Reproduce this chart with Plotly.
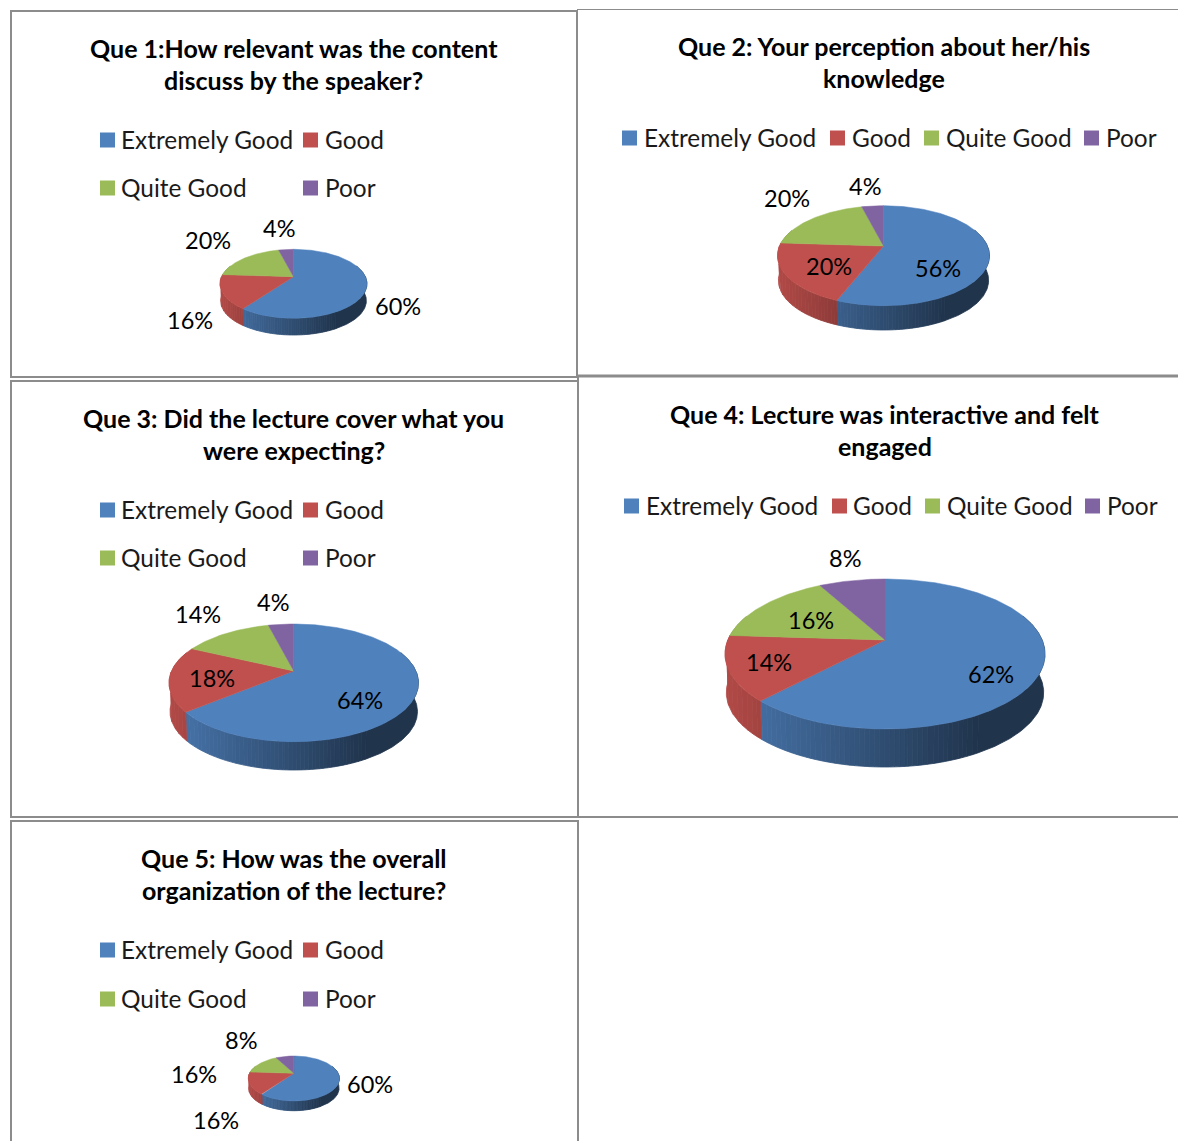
import math
import plotly.graph_objects as go

# ---- data ----
CATEGORIES = ["Extremely Good", "Good", "Quite Good", "Poor"]
Q1_VALUES = [60, 16, 20, 4]
Q2_VALUES = [56, 20, 20, 4]
Q3_VALUES = [64, 18, 14, 4]
Q4_VALUES = [62, 14, 16, 8]
Q5_VALUES = [60, 16, 16, 8]
Q1_TITLE = ["Que 1:How relevant was the content", "discuss by the speaker?"]
Q2_TITLE = ["Que 2: Your perception about her/his", "knowledge"]
Q3_TITLE = ["Que 3: Did the lecture cover what you", "were expecting?"]
Q4_TITLE = ["Que 4: Lecture was interactive and felt", "engaged"]
Q5_TITLE = ["Que 5: How was the overall", "organization of the lecture?"]

# ---- styling / layout ----
COLORS = [(79, 129, 189), (192, 80, 77), (155, 187, 89), (128, 100, 162)]
FONT = "Lato"
TITLE_SIZE = 25
LEGEND_SIZE = 24.4
LABEL_SIZE = 23.5
BORDER = "#8c8c8c"

LEG_TWO_ROWS = lambda y1, y2: [(100, y1, 119), (303, y1, 323), (100, y2, 119), (303, y2, 323)]
PANELS = [
    dict(values=Q1_VALUES, title=Q1_TITLE, tx=293.5, ty=(48, 80), legend=LEG_TWO_ROWS(140, 188),
         top=249.3, apex=276.7, bottom=318.3, left=220, right=367, side=335,
         labels=[(398, 306), (190, 320), (208, 240), (279, 228)]),
    dict(values=Q2_VALUES, title=Q2_TITLE, tx=884, ty=(46, 78),
         legend=[(622, 138, 642), (830, 138, 850), (924, 138, 944), (1084, 138, 1104)],
         top=205.7, apex=246, bottom=305.7, left=777.5, right=989.5, side=330,
         labels=[(938, 268), (829, 266), (787, 198), (865, 186)]),
    dict(values=Q3_VALUES, title=Q3_TITLE, tx=293.5, ty=(418, 450), legend=LEG_TWO_ROWS(510, 558),
         top=624, apex=671, bottom=741.7, left=169, right=418.5, side=770,
         labels=[(360, 700), (212, 678), (198, 614), (273, 602)]),
    dict(values=Q4_VALUES, title=Q4_TITLE, tx=885, ty=(414, 446),
         legend=[(624, 506, 644), (832, 506, 851), (925, 506, 945), (1085, 506, 1105)],
         top=579, apex=640, bottom=729, left=725, right=1045, side=767,
         labels=[(991, 674), (769, 662), (811, 620), (845, 558)]),
    dict(values=Q5_VALUES, title=Q5_TITLE, tx=294, ty=(858, 890), legend=LEG_TWO_ROWS(950, 999),
         top=1056, apex=1073.3, bottom=1101, left=248.3, right=339.5, side=1110.7,
         labels=[(370, 1084), (216, 1120), (194, 1074), (241, 1040)]),
]
BORDER_LINES = [
    (11, 11, 577, 11, 2), (11, 10, 11, 378, 2), (11, 377, 578, 377, 2), (577, 10, 577, 378, 2),
    (577, 9.5, 1178, 9.5, 1.2), (577, 376, 1178, 376, 3),
    (11, 381, 578, 381, 2), (11, 380, 11, 818, 2), (11, 817, 1178, 817, 2), (578, 376, 578, 818, 2),
    (11, 821, 578, 821, 2), (11, 820, 11, 1141, 2), (578, 820, 578, 1141, 2),
]


def rgb(c, s=1.0):
    return "rgb(%d,%d,%d)" % tuple(round(v * s) for v in c)


def projector(p):
    back, front = p["apex"] - p["top"], p["bottom"] - p["apex"]
    k = (front - back) / (front + back)
    a = back * (1 + k)
    cx = (p["left"] + p["right"]) / 2
    R = (p["right"] - p["left"]) / 2 * math.sqrt(1 - k * k)

    def top(th):
        X, Y = math.sin(th), math.cos(th)
        d = 1 + k * Y
        return cx + R * X / d, p["apex"] - a * Y / d

    s = 0.992
    shift = p["side"] - (p["apex"] + s * front)

    def low(th):
        x, y = top(th)
        return cx + s * (x - cx), p["apex"] + s * (y - p["apex"]) + shift

    return top, low


def add_wall_band(fig, top, low, angles, col):
    if len(angles) < 2:
        return
    upper = [top(t) for t in angles]
    lower = [low(t) for t in reversed(angles)]
    pts = upper + lower + upper[:1]
    fig.add_trace(go.Scatter(x=[q[0] for q in pts], y=[q[1] for q in pts], mode="lines", fill="toself",
                             fillcolor=col, line=dict(color=col, width=0.8),
                             hoverinfo="skip", showlegend=False))


fig = go.Figure()
LEVELS = 100
for p in PANELS:
    top, low = projector(p)
    total = sum(p["values"])
    width = p["right"] - p["left"]
    start = 0.0
    spans = []
    for v in p["values"]:
        end = start + v / total * 2 * math.pi
        spans.append((start, end))
        start = end
    # side wall: neighbouring angles with the same shade merge into one band
    for i, (a0, a1) in enumerate(spans):
        n = max(2, int((a1 - a0) / math.radians(0.5)))
        angles, cur = [], None
        for j in range(n + 1):
            t = a0 + (a1 - a0) * j / n
            if math.cos(t) > 0.35:
                add_wall_band(fig, top, low, angles, rgb(COLORS[i], (cur or 0) / LEVELS))
                angles, cur = [], None
                continue
            u = (top(t)[0] - p["left"]) / width
            key = round((0.92 - 0.65 * min(u, 0.8)) * LEVELS)
            if cur is not None and key != cur:
                angles.append(t)
                add_wall_band(fig, top, low, angles, rgb(COLORS[i], cur / LEVELS))
                angles = [t]
            elif cur is None:
                angles = []
            if not angles or angles[-1] != t:
                angles.append(t)
            cur = key
        add_wall_band(fig, top, low, angles, rgb(COLORS[i], (cur or 0) / LEVELS))
    # top face
    for i, (a0, a1) in enumerate(spans):
        n = max(2, int((a1 - a0) / math.radians(1.0)))
        pts = [top(a0 + (a1 - a0) * j / n) for j in range(n + 1)]
        ax = (p["left"] + p["right"]) / 2
        xs = [ax] + [q[0] for q in pts] + [ax]
        ys = [p["apex"]] + [q[1] for q in pts] + [p["apex"]]
        fig.add_trace(go.Scatter(x=xs, y=ys, mode="lines", fill="toself", fillcolor=rgb(COLORS[i]),
                                 line=dict(color=rgb(COLORS[i]), width=0.5), name=CATEGORIES[i],
                                 hoverinfo="name", showlegend=False))
    # legend
    for i, (mx, my, tx) in enumerate(p["legend"]):
        fig.add_trace(go.Scatter(x=[mx + 7.5], y=[my], mode="markers", hoverinfo="skip", showlegend=False,
                                 marker=dict(symbol="square", size=15, color=rgb(COLORS[i]), line=dict(width=0))))
        fig.add_annotation(x=tx, y=my - 1, text=CATEGORIES[i], showarrow=False, xanchor="left", yanchor="middle",
                           font=dict(family=FONT, size=LEGEND_SIZE, color="#1a1a1a"))
    # titles
    for line, y in zip(p["title"], p["ty"]):
        fig.add_annotation(x=p["tx"], y=y, text="<b>%s</b>" % line, showarrow=False, xanchor="center",
                           yanchor="middle", font=dict(family=FONT, size=TITLE_SIZE, color="#000000"))
    # data labels
    for v, (lx, ly) in zip(p["values"], p["labels"]):
        fig.add_annotation(x=lx, y=ly, text="%d%%" % v, showarrow=False, xanchor="center", yanchor="middle",
                           font=dict(family=FONT, size=LABEL_SIZE, color="#000000"))

for x0, y0, x1, y1, w in BORDER_LINES:
    fig.add_shape(type="line", x0=x0, y0=y0, x1=x1, y1=y1, xref="x", yref="y",
                  line=dict(color=BORDER, width=w), layer="above")

fig.update_layout(
    width=1178, height=1141, autosize=False, margin=dict(l=0, r=0, t=0, b=0),
    paper_bgcolor="white", plot_bgcolor="white", showlegend=False,
    xaxis=dict(range=[0, 1178], visible=False, fixedrange=True),
    yaxis=dict(range=[1141, 0], visible=False, fixedrange=True),
)
fig.write_html("out.html", config={"displayModeBar": False},
               post_script="document.body.style.margin='0';document.documentElement.style.overflow='hidden';")
